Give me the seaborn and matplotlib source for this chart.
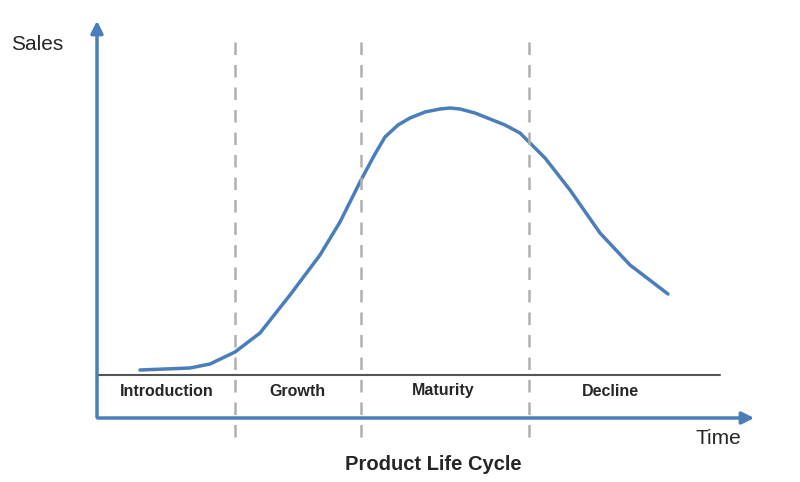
import matplotlib
matplotlib.use("Agg")
import matplotlib.pyplot as plt
import seaborn as sns
import pandas as pd

# curve (time, sales) in the chart's own units
time = [140, 190, 210, 235, 260, 290, 320, 340, 361, 375, 385, 398, 410, 425, 440, 450, 460, 475, 490, 505, 520, 545, 570, 600, 630, 668]
sales = [112, 114, 118, 130, 149, 187, 227, 260, 302, 328, 345, 357, 364, 370, 373, 374, 373, 369, 363, 357, 349, 324, 292, 249, 217, 188]
stage_names = ["Introduction", "Growth", "Maturity", "Decline"]
stage_centers = [167, 297, 443, 610]
stage_bounds = [235, 361, 529]

sns.set_style("white")
plt.rcParams['font.family'] = ['Liberation Sans', 'DejaVu Sans']

fig = plt.figure(figsize=(8, 4.82), dpi=100)
ax = fig.add_axes([0, 0, 1, 1])
ax.set_xlim(0, 800)
ax.set_ylim(0, 482)
ax.axis("off")

blue = "#4a7ebb"
df = pd.DataFrame({"time": time, "sales": sales})
sns.lineplot(data=df, x="time", y="sales", ax=ax, color=blue, lw=2.5)

# axes with arrows
ax.annotate("", xy=(97, 464), xytext=(97, 62),
            arrowprops=dict(arrowstyle="-|>", color=blue, lw=2.5, mutation_scale=18))
ax.annotate("", xy=(757, 64), xytext=(95, 64),
            arrowprops=dict(arrowstyle="-|>", color=blue, lw=2.5, mutation_scale=18))

# baseline and stage dividers
ax.plot([97, 720], [107, 107], color="#555555", lw=1.5)
for b in stage_bounds:
    ax.plot([b, b], [45, 440], color="#b0b0b0", lw=1.8, ls=(0, (5, 4)))
for name, c in zip(stage_names, stage_centers):
    ax.text(c, 91, name, ha="center", va="center", fontsize=11.5, fontweight="bold")

ax.text(37, 438, "Sales", ha="center", va="center", fontsize=15)
ax.text(718, 44, "Time", ha="center", va="center", fontsize=15)
ax.text(433, 17, "Product Life Cycle", ha="center", va="center", fontsize=14.5, fontweight="bold")

fig.savefig("out.png", dpi=100)
